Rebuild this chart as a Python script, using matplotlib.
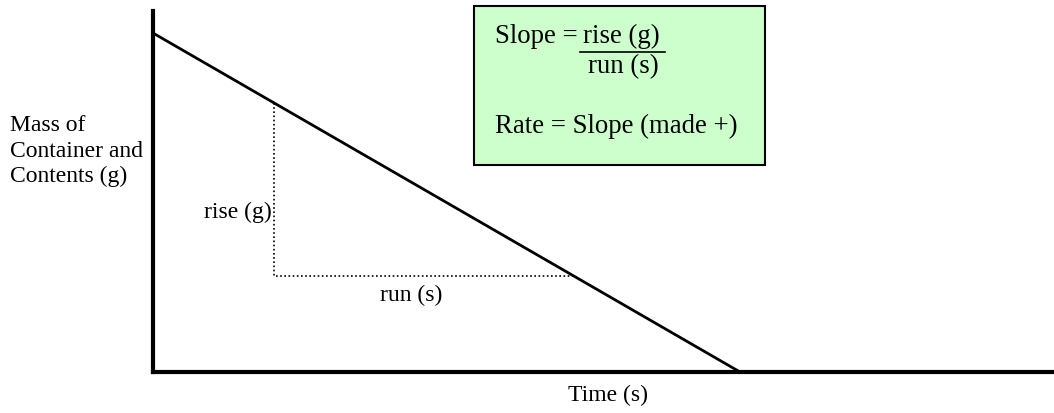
import matplotlib
matplotlib.use("Agg")
import matplotlib.pyplot as plt
from matplotlib.patches import Rectangle
from matplotlib.lines import Line2D

plt.rcParams['font.family'] = ['Liberation Serif', 'DejaVu Serif']

# mass vs time line (arbitrary units)
time = [0, 65.15]
mass = [93.9, 0]

# dotted rise/run triangle
tri_time = [13.43, 13.43, 46.7]
tri_mass = [74.5, 26.6, 26.6]

W, H = 1054, 414

def px(x, y):
    # pixel position (from top-left) -> figure fraction
    return x / W, 1 - y / H

fig = plt.figure(figsize=(W / 100, H / 100), dpi=100)
ax = fig.add_axes([153 / W, (H - 373) / H, (W - 153) / W, (373 - 12) / H])
ax.set_xlim(0, 100)
ax.set_ylim(0, 100)

ax.plot(time, mass, color='black', lw=2)
ax.plot(tri_time, tri_mass, color='black', lw=1.2, linestyle=(0, (1, 1.5)))

for s in ['top', 'right']:
    ax.spines[s].set_visible(False)
for s in ['left', 'bottom']:
    ax.spines[s].set_linewidth(3)
ax.set_xticks([])
ax.set_yticks([])

fs = 17
fig.text(*px(272, 218), 'rise (g)', ha='right', va='baseline', fontsize=fs)
fig.text(*px(411, 301), 'run (s)', ha='center', va='baseline', fontsize=fs)
fig.text(*px(608, 401), 'Time (s)', ha='center', va='baseline', fontsize=fs)
fig.text(*px(10, 182), 'Mass of\nContainer and\nContents (g)', ha='left', va='baseline',
         fontsize=fs, multialignment='left', linespacing=1.26)

# slope box
bx, by = px(474, 166)
fig.add_artist(Rectangle((bx, by), (765 - 474) / W, (166 - 7) / H, transform=fig.transFigure,
                         facecolor='#ccffcc', edgecolor='black', lw=1.5))
bfs = 19.3
fig.text(*px(495, 43), 'Slope = ', ha='left', va='baseline', fontsize=bfs)
fig.text(*px(583, 43), 'rise (g)', ha='left', va='baseline', fontsize=bfs)
x0, y0 = px(580, 53)
x1, _ = px(665, 53)
fig.add_artist(Line2D([x0, x1], [y0, y0], transform=fig.transFigure, color='black', lw=1.2))
fig.text(*px(623, 73), 'run (s)', ha='center', va='baseline', fontsize=bfs)
fig.text(*px(495, 133), 'Rate = Slope (made +)', ha='left', va='baseline', fontsize=bfs)

fig.savefig('out.png', dpi=100)
